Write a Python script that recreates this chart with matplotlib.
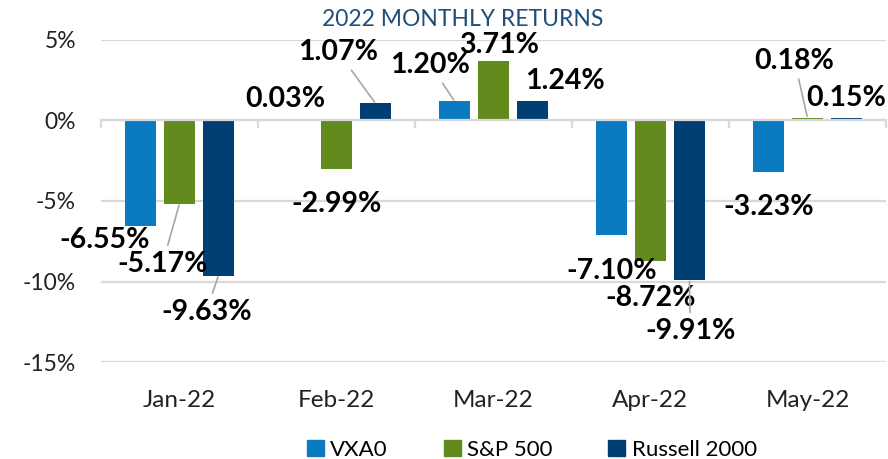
import matplotlib.pyplot as plt
import numpy as np
from matplotlib.patches import Patch

plt.rcParams['font.family'] = ['Lato', 'DejaVu Sans']

months = ['Jan-22', 'Feb-22', 'Mar-22', 'Apr-22', 'May-22']
vxa0 = [-6.55, 0.03, 1.20, -7.10, -3.23]
sp500 = [-5.17, -2.99, 3.71, -8.72, 0.18]
russell = [-9.63, 1.07, 1.24, -9.91, 0.15]
series_names = ['VXA0', 'S&P 500', 'Russell 2000']
colors = ['#0A7BC1', '#638A1C', '#003E73']

# label offsets in pixels from bar end (dx, dy up), and whether a leader line is drawn
offsets = [
    [(-36, -14, False), (-12, 21, False), (-24, 36, True), (0, -36, False), (0, -35, False)],
    [(-17, -60, True), (0, -35, False), (6, 16, False), (0, -37, False), (-13, 57, True)],
    [(-12, -36, True), (-37, 51, True), (33, 20, False), (1, -51, True), (0, 20, False)],
]

fig = plt.figure(figsize=(8.88, 4.59), dpi=100)
ax = fig.add_axes([0.1137, 0.2113, 0.884, 0.7016])

x = np.arange(len(months))
w = 0.197
for j, (vals, c) in enumerate(zip([vxa0, sp500, russell], colors)):
    xs = x + (j - 1) * 0.248
    ax.bar(xs, vals, width=w, color=c, zorder=3)
    for i, v in enumerate(vals):
        dx, dy, lead = offsets[j][i]
        ap = dict(arrowstyle='-', color='#A6A6A6', lw=1.2, shrinkA=2, shrinkB=1) if lead else None
        ax.annotate('%.2f%%' % v, xy=(xs[i], v), xytext=(dx, dy),
                    textcoords='offset pixels', ha='center', va='center',
                    fontsize=20.5, fontweight='bold', color='black',
                    arrowprops=ap, zorder=5)

ax.set_xlim(-0.5, 4.5)
ax.set_ylim(-15, 5)
ax.set_yticks([5, 0, -5, -10, -15])
ax.set_yticklabels(['5%', '0%', '-5%', '-10%', '-15%'], fontsize=16.5, color='#222222')
ax.grid(axis='y', color='#D9D9D9', lw=1.6, zorder=0)
for s in ['top', 'right', 'left']:
    ax.spines[s].set_visible(False)
ax.spines['bottom'].set_position(('data', 0))
ax.spines['bottom'].set_color('#D9D9D9')
ax.spines['bottom'].set_linewidth(1.6)
ax.spines['bottom'].set_zorder(4)
ax.tick_params(axis='y', length=0, pad=18)
ax.set_xticks(x)
ax.set_xticklabels(months, fontsize=17.5, color='#222222')
ax.tick_params(axis='x', which='major', length=0, pad=194)
ax.set_xticks(np.arange(-0.5, 5, 1), minor=True)
ax.tick_params(axis='x', which='minor', length=6, width=1.6, color='#D9D9D9', direction='out')

fig.text(0.521, 0.958, '2022 MONTHLY RETURNS', ha='center', va='center',
         fontsize=16.5, color='#1F4E79')

handles = [Patch(color=c, label=n) for c, n in zip(colors, series_names)]
fig.legend(handles=handles, loc='center', bbox_to_anchor=(0.599, 0.02), ncol=3,
           frameon=False, fontsize=16, handlelength=0.77, handleheight=0.77,
           handletextpad=0.3, columnspacing=2.5, borderpad=0, borderaxespad=0)

fig.savefig('out.png', dpi=100)
